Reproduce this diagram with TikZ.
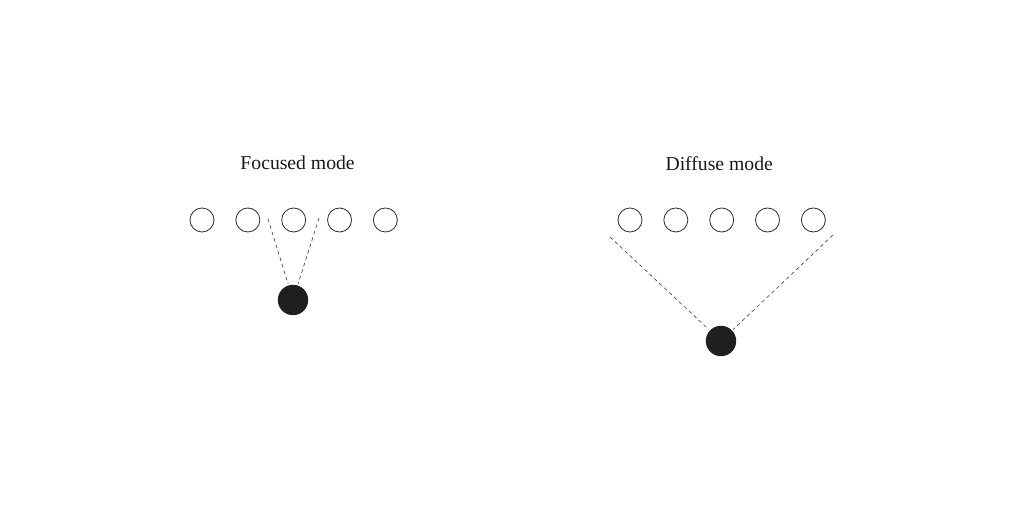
\documentclass[tikz,border=0pt]{standalone}
\usepackage{fontspec}
\setmainfont{Liberation Serif}
\usetikzlibrary{positioning}
\tikzset{unit/.style={circle,draw=black!80,fill=white,line width=0.6pt,minimum size=0.6cm,inner sep=0pt}}
\tikzset{focus/.style={circle,fill=black!88,minimum size=0.76cm,inner sep=0pt}}
\tikzset{title/.style={font=\fontsize{14}{16}\selectfont,text=black!90}}
\tikzset{reach/.style={dash pattern=on 2.6pt off 2.2pt,line width=0.45pt,draw=black!75,shorten >=1pt}}

\begin{document}
\begin{tikzpicture}
\useasboundingbox (0,0) rectangle (25.6,12.8);
\begin{scope}[node distance=0.525cm]
	% focused
	\node (ftitle) [title] at (7.44,8.72) {Focused mode} ;
	\node (f1) [unit] at (5.05,7.3) {} ;
	\node (f2) [unit, right =of f1] {} ;
	\node (f3) [unit, right =of f2] {} ;
	\node (f4) [unit, right =of f3] {} ;
	\node (f5) [unit, right =of f4] {} ;
	\node (fdot) [focus] at (7.325,5.3) {} ;
	\coordinate (fl) at (6.7,7.33) ;
	\coordinate (fr) at (7.975,7.35) ;
	\draw [reach] (fl) -- (fdot) ;
	\draw [reach] (fr) -- (fdot) ;
	% diffuse
	\node (dtitle) [title] at (17.98,8.72) {Diffuse mode} ;
	\node (d1) [unit] at (15.75,7.3) {} ;
	\node (d2) [unit, right =of d1] {} ;
	\node (d3) [unit, right =of d2] {} ;
	\node (d4) [unit, right =of d3] {} ;
	\node (d5) [unit, right =of d4] {} ;
	\node (ddot) [focus] at (18.025,4.275) {} ;
	\coordinate (dl) at (15.25,6.875) ;
	\coordinate (dr) at (20.825,6.925) ;
	\draw [reach] (dl) -- (ddot) ;
	\draw [reach] (dr) -- (ddot) ;
\end{scope}
\end{tikzpicture}
\end{document}
